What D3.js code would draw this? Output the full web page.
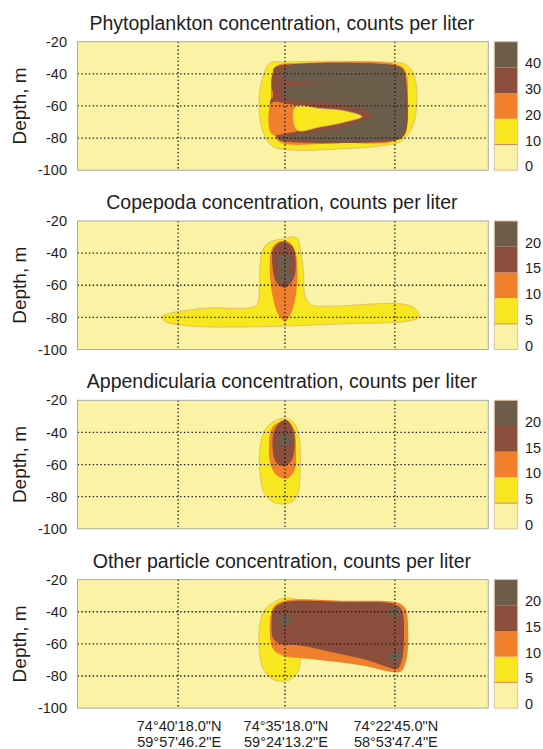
<!DOCTYPE html>
<html>
<head>
<meta charset="utf-8">
<script src="https://cdn.jsdelivr.net/npm/d3@7"></script>
<style>
  body { margin: 0; background: #fff; }
  text { font-family: "Liberation Sans", Arial, sans-serif; fill: #1e1e1e; }
</style>
</head>
<body>
<div id="chart"></div>
<script>
// ---- data ----
const titles = [
  "Phytoplankton concentration, counts per liter",
  "Copepoda concentration, counts per liter",
  "Appendicularia concentration, counts per liter",
  "Other particle concentration, counts per liter"
];
const phytoLevels = [0, 10, 20, 30, 40];
const zooLevels = [0, 5, 10, 15, 20];
const depthTicks = [-20, -40, -60, -80, -100];
const stationPos = [0.98, 2.02, 3.09];
const stationLat = ["74°40'18.0\"N", "74°35'18.0\"N", "74°22'45.0\"N"];
const stationLon = ["59°57'46.2\"E", "59°24'13.2\"E", "58°53'47.4\"E"];
const bandColors = ["#faf3a6", "#f8e71f", "#f0802b", "#8c4e3d", "#6c5e4b"];

// contour regions: [band index, [[position, depth], ...]]
const phytoShapes = [
  [1, [[1.874,-33.3],[2.02,-32.6],[2.556,-32.3],[3.09,-33.0],[3.188,-33.9],[3.267,-38.9],[3.306,-56.3],[3.257,-73.7],[3.14,-82.4],[2.945,-84.9],[2.556,-86.8],[2.069,-87.4],[1.894,-84.9],[1.806,-76.2],[1.767,-59.4],[1.797,-43.8]]],
  [2, [[1.953,-34.5],[2.166,-33.3],[3.09,-33.9],[3.188,-37.6],[3.218,-56.3],[3.188,-76.2],[3.09,-81.8],[2.556,-83.1],[2.02,-83.7],[1.943,-81.2],[1.885,-68.8],[1.885,-50.1],[1.904,-38.9]]],
  [3, [[1.913,-36.4],[2.02,-34.5],[3.092,-34.8],[3.169,-37.0],[3.199,-43.8],[3.208,-73.7],[3.169,-79.3],[3.092,-81.5],[2.02,-82.1],[1.952,-80.6],[1.913,-73.7],[1.904,-50.1],[1.904,-40.1]]],
  [4, [[2.001,-37.6],[2.069,-34.8],[3.092,-35.1],[3.16,-37.6],[3.184,-43.8],[3.184,-73.7],[3.15,-79.3],[3.072,-80.9],[2.069,-81.2],[1.972,-80.6],[1.952,-78.1],[1.991,-75.0],[2.001,-56.3]]],
  [3, [[1.904,-40.1],[2.001,-43.2],[2.167,-45.1],[2.751,-46.0],[2.167,-47.0],[2.001,-48.8],[1.904,-51.3]]],
  [3, [[1.894,-55.0],[2.166,-56.9],[2.556,-58.8],[2.868,-65.6],[2.556,-73.7],[2.166,-77.5],[1.972,-78.7],[1.894,-70.0]]],
  [2, [[1.89,-58.2],[2.05,-58.8],[2.14,-60.5],[2.15,-68.0],[2.14,-75.5],[2.05,-76.8],[1.89,-77.5]]],
  [1, [[2.118,-60.7],[2.361,-61.6],[2.605,-63.1],[2.77,-66.6],[2.605,-70.0],[2.361,-73.1],[2.137,-75.0]]]
];

const copepodaShapes = [
  [1, [[1.737,-72.5],[1.770,-62.6],[1.777,-48.0],[1.804,-37.7],[1.872,-33.1],[2.007,-31.0],[2.108,-29.8],[2.148,-31.4],[2.175,-39.7],[2.202,-52.2],[2.216,-66.7],[2.276,-72.1],[2.445,-73.0],[3.254,-73.0],[3.328,-79.6],[3.22,-82.3],[2.613,-84.0],[2.04,-85.4],[1.602,-86.0],[1.096,-85.4],[0.853,-82.5],[0.82,-79.8],[0.894,-77.5],[1.265,-74.2]]],
  [2, [[1.939,-33.5],[2.04,-32.5],[2.114,-37.7],[2.141,-50.1],[2.125,-66.7],[2.074,-78.2],[2.02,-82.3],[1.956,-78.2],[1.899,-66.7],[1.872,-50.1],[1.889,-37.7]]],
  [3, [[1.99,-32.9],[2.091,-35.6],[2.125,-46.0],[2.101,-56.3],[2.023,-61.5],[1.939,-58.4],[1.899,-48.0],[1.905,-37.7]]],
  [4, [[1.943,-45.5],[1.978,-41.2],[2.048,-41.2],[2.083,-45.5],[2.048,-49.6],[1.978,-49.6]]],
  [4, [[1.943,-54.0],[1.978,-50.3],[2.048,-50.3],[2.083,-54.0],[2.048,-58.0],[1.978,-58.0]]]
];

const appendShapes = [
  [1, [[1.905,-33.5],[2.023,-31.0],[2.114,-34.5],[2.162,-44.9],[2.168,-63.6],[2.135,-80.2],[2.04,-84.4],[1.905,-83.3],[1.821,-78.2],[1.777,-65.7],[1.777,-49.1],[1.821,-38.7]]],
  [2, [[1.939,-34.5],[2.04,-32.5],[2.108,-37.7],[2.128,-51.2],[2.114,-63.6],[2.04,-68.8],[1.939,-66.7],[1.878,-59.5],[1.865,-47.0],[1.889,-37.7]]],
  [3, [[1.973,-33.5],[2.04,-32.5],[2.101,-38.7],[2.114,-49.1],[2.081,-57.8],[2.007,-61.1],[1.932,-58.4],[1.899,-49.1],[1.912,-39.8]]],
  [4, [[1.943,-44.4],[1.978,-40.8],[2.048,-40.8],[2.083,-44.4],[2.048,-48.0],[1.978,-48.0]]]
];

const otherShapes = [
  [1, [[1.905,-34.4],[2.023,-31.3],[2.175,-34.8],[2.175,-63.7],[2.148,-77.1],[2.057,-82.7],[1.905,-82.3],[1.811,-76.1],[1.77,-63.7],[1.777,-47.2],[1.821,-39.0]]],
  [2, [[1.922,-35.9],[2.04,-32.8],[2.613,-33.2],[3.119,-34.4],[3.193,-37.9],[3.22,-53.4],[3.203,-69.9],[3.153,-77.1],[3.085,-77.7],[2.782,-73.6],[2.276,-69.5],[2.007,-67.4],[1.905,-63.3],[1.872,-51.3],[1.889,-40.0]]],
  [3, [[1.939,-36.5],[2.04,-33.8],[2.613,-34.0],[3.085,-35.3],[3.159,-39.0],[3.179,-53.4],[3.159,-69.9],[3.112,-75.7],[3.018,-74.4],[2.782,-69.5],[2.445,-64.7],[2.175,-61.2],[1.973,-60.0],[1.905,-56.5],[1.889,-47.2],[1.905,-39.0]]],
  [4, [[1.954,-45.4],[1.985,-42.7],[2.06,-42.7],[2.091,-45.4],[2.06,-48.2],[1.985,-48.2]]],
  [4, [[3.035,-40.2],[3.06,-37.9],[3.125,-37.9],[3.153,-40.2],[3.125,-42.7],[3.06,-42.7]]],
  [4, [[3.018,-67.5],[3.05,-65.8],[3.14,-65.8],[3.17,-67.5],[3.12,-70.5],[3.09,-72.5],[3.06,-70.5]]]
];

// ---- layout ----
const width = 543, height = 749;
const plotLeft = 77.5, plotRight = 488.3;
const firstTop = 41.7, panelStep = 179.3, plotH = 128.5;
const barX = 494.3, barW = 23.4;

const panels = [
  { title: titles[0], levels: phytoLevels, shapes: phytoShapes },
  { title: titles[1], levels: zooLevels, shapes: copepodaShapes },
  { title: titles[2], levels: zooLevels, shapes: appendShapes },
  { title: titles[3], levels: zooLevels, shapes: otherShapes }
];

const svg = d3.select("#chart").append("svg")
  .attr("width", width)
  .attr("height", height);

const x = d3.scaleLinear().domain([0, 4]).range([plotLeft, plotRight]);

panels.forEach(function (p, i) {
  const top = firstTop + i * panelStep;
  const y = d3.scaleLinear().domain([-100, -20]).range([top + plotH, top]);
  const g = svg.append("g").attr("class", "panel");

  svg.append("clipPath").attr("id", "clip" + i)
    .append("rect")
    .attr("x", plotLeft).attr("y", top)
    .attr("width", plotRight - plotLeft).attr("height", plotH);

  // background = lowest band
  g.append("rect")
    .attr("x", plotLeft).attr("y", top)
    .attr("width", plotRight - plotLeft).attr("height", plotH)
    .attr("fill", bandColors[0]);

  const area = d3.line()
    .x(d => x(d[0]))
    .y(d => y(d[1]))
    .curve(d3.curveCatmullRomClosed.alpha(0.5));

  g.append("g").attr("clip-path", "url(#clip" + i + ")")
    .selectAll("path")
    .data(p.shapes)
    .enter()
    .append("path")
    .attr("d", d => area(d[1]))
    .attr("fill", d => bandColors[d[0]])
    .attr("stroke", d => d[0] === 1 ? "#dcae6c" : "none")
    .attr("stroke-width", 0.7);

  // dotted grid
  g.selectAll(".hgrid").data(depthTicks.slice(1, 4)).enter()
    .append("line")
    .attr("x1", plotLeft).attr("x2", plotRight)
    .attr("y1", d => y(d)).attr("y2", d => y(d))
    .attr("stroke", "#1a1a1a").attr("stroke-width", 1.3)
    .attr("stroke-dasharray", "1.4,2.4");
  g.selectAll(".vgrid").data(stationPos).enter()
    .append("line")
    .attr("x1", d => x(d)).attr("x2", d => x(d))
    .attr("y1", top).attr("y2", top + plotH)
    .attr("stroke", "#1a1a1a").attr("stroke-width", 1.3)
    .attr("stroke-dasharray", "1.4,2.4");

  g.append("rect")
    .attr("x", plotLeft).attr("y", top)
    .attr("width", plotRight - plotLeft).attr("height", plotH)
    .attr("fill", "none").attr("stroke", "#a9aca2").attr("stroke-width", 1);

  // y axis (plain hyphen minus, as in the figure)
  const yAxis = g.append("g")
    .attr("transform", "translate(" + plotLeft + ",0)")
    .call(d3.axisLeft(y).tickValues(depthTicks).tickFormat(d => String(d))
      .tickSize(0).tickPadding(10.5));
  yAxis.select(".domain").remove();
  yAxis.selectAll("text")
    .style("font-family", "\"Liberation Sans\", Arial, sans-serif")
    .style("font-size", "14.5px")
    .attr("fill", "#1e1e1e");

  g.append("text")
    .attr("transform", "translate(26," + (top + plotH / 2) + ") rotate(-90)")
    .attr("text-anchor", "middle")
    .style("font-size", "19px")
    .text("Depth, m");

  // title
  g.append("text")
    .attr("x", (plotLeft + plotRight) / 2 - 1)
    .attr("y", top - 12)
    .attr("text-anchor", "middle")
    .style("font-size", "19.5px")
    .text(p.title);

  // colour bar
  const step = p.levels[1] - p.levels[0];
  const cb = d3.scaleLinear()
    .domain([p.levels[0], p.levels[p.levels.length - 1] + step])
    .range([top + plotH, top]);
  g.selectAll(".band").data(p.levels).enter()
    .append("rect")
    .attr("x", barX).attr("width", barW)
    .attr("y", d => cb(d + step))
    .attr("height", d => cb(d) - cb(d + step))
    .attr("fill", (d, k) => bandColors[k]);
  g.append("line")
    .attr("x1", barX).attr("x2", barX + barW)
    .attr("y1", cb(p.levels[1])).attr("y2", cb(p.levels[1]))
    .attr("stroke", "#c98a5c").attr("stroke-width", 1);
  g.append("rect")
    .attr("x", barX).attr("y", top)
    .attr("width", barW).attr("height", plotH)
    .attr("fill", "none").attr("stroke", "#e2bd9c").attr("stroke-width", 1);
  g.selectAll(".cbl").data(p.levels).enter()
    .append("text")
    .attr("x", 525)
    .attr("y", d => cb(d) + 1)
    .style("font-size", "14.5px")
    .text(d => d);
});

// station labels under the last panel
const lastBottom = firstTop + 3 * panelStep + plotH;
svg.selectAll(".lat").data(stationLat).enter()
  .append("text")
  .attr("x", (d, i) => x(stationPos[i]) + 1)
  .attr("y", lastBottom + 23)
  .attr("text-anchor", "middle")
  .style("font-size", "14.5px")
  .text(d => d);
svg.selectAll(".lon").data(stationLon).enter()
  .append("text")
  .attr("x", (d, i) => x(stationPos[i]) + 1)
  .attr("y", lastBottom + 39)
  .attr("text-anchor", "middle")
  .style("font-size", "14.5px")
  .text(d => d);
</script>
</body>
</html>
